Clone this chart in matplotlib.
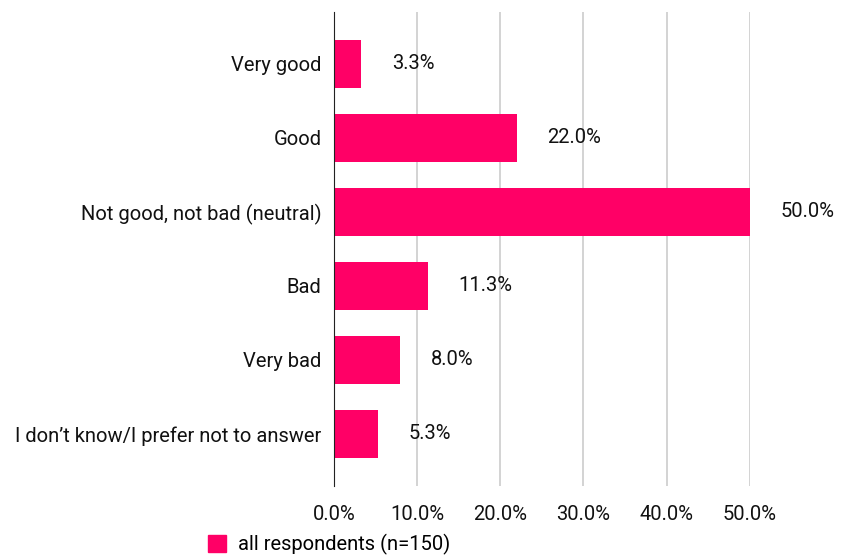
import numpy as np
import matplotlib.pyplot as plt
from matplotlib.patches import Patch

categories = ['Very good', 'Good', 'Not good, not bad (neutral)', 'Bad', 'Very bad',
              'I don\u2019t know/I prefer not to answer']
values = [3.3, 22.0, 50.0, 11.3, 8.0, 5.3]
xticks = [0, 10, 20, 30, 40, 50]
series_name = 'all respondents (n=150)'

plt.rcParams['font.family'] = ['Roboto', 'DejaVu Sans']
color = '#FF0066'
fs = 14.5
tc = '#111111'

fig = plt.figure(figsize=(8.56, 5.59), dpi=100)
ax = fig.add_axes([0.390, 0.131, 0.486, 0.848])

y = np.arange(len(categories))
ax.barh(y, values, height=0.65, color=color, zorder=3)
for yi, v in zip(y, values):
    ax.annotate('%.1f%%' % v, (v, yi), xytext=(22, 0), textcoords='offset points',
                va='center', ha='left', fontsize=fs, color=tc)

ax.set_yticks(y)
ax.set_yticklabels(categories, fontsize=fs, color=tc)
ax.set_ylim(len(categories) - 0.3, -0.7)
ax.set_xlim(0, 50)
ax.set_xticks(xticks)
ax.set_xticklabels(['%.1f%%' % t for t in xticks], fontsize=fs, color=tc)
ax.tick_params(length=0, pad=9)
ax.tick_params(axis='x', pad=14)
ax.grid(axis='x', color='#cccccc', linewidth=1.2, zorder=0)
for s in ['top', 'right', 'bottom']:
    ax.spines[s].set_visible(False)
ax.spines['left'].set_color('#222222')
ax.spines['left'].set_zorder(4)

fig.legend(handles=[Patch(color=color, label=series_name)], loc='lower left',
           bbox_to_anchor=(0.222, -0.025), frameon=False, fontsize=fs,
           handlelength=0.9, handleheight=0.9, handletextpad=0.6)

fig.savefig('out.png', dpi=100)
